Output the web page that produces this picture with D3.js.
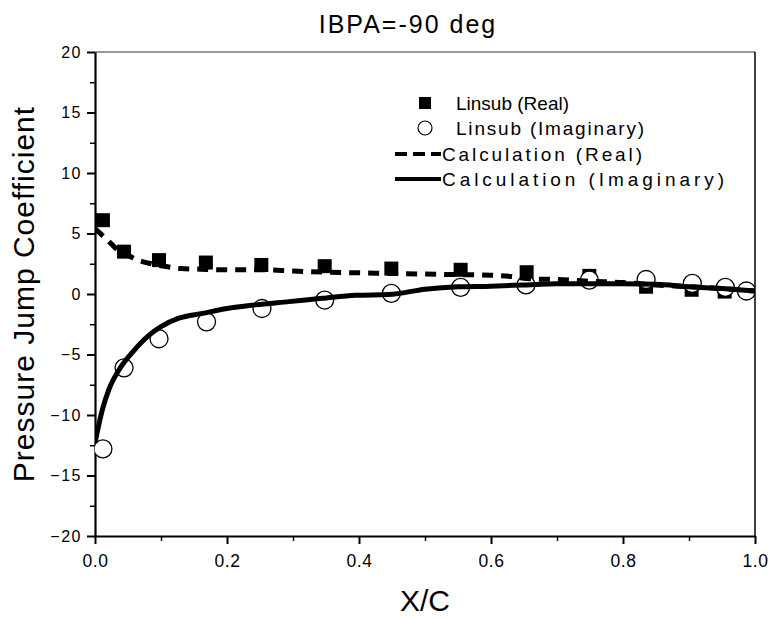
<!DOCTYPE html>
<html>
<head>
<meta charset="utf-8">
<script src="https://cdn.jsdelivr.net/npm/d3@7"></script>
<style>
	body { margin: 0; background: #fff; }
	text { font-family: "Liberation Sans", Arial, sans-serif; fill: #000; }
</style>
</head>
<body>
<div id="chartCanvas"></div>
<script>
"use strict";
//Linsub points (squares = real part, circles = imaginary part)
var linsubRealX = [0.012, 0.044, 0.097, 0.168, 0.252, 0.348, 0.449, 0.554, 0.654, 0.749, 0.835, 0.904, 0.954];
var linsubRealY = [6.1, 3.5, 2.8, 2.6, 2.4, 2.3, 2.1, 2.0, 1.8, 1.5, 0.6, 0.35, 0.2];
var linsubImagX = [0.012, 0.044, 0.097, 0.169, 0.253, 0.348, 0.449, 0.554, 0.653, 0.749, 0.835, 0.905, 0.955, 0.987];
var linsubImagY = [-12.8, -6.1, -3.7, -2.3, -1.2, -0.5, 0.05, 0.55, 0.75, 1.15, 1.2, 0.88, 0.55, 0.25];

//calculated curves
var calcRealX = [0.0, 0.01, 0.02, 0.035, 0.05, 0.065, 0.085, 0.11, 0.13, 0.16, 0.2, 0.25, 0.3, 0.35, 0.4, 0.45, 0.5, 0.55, 0.6, 0.63, 0.66, 0.7, 0.75, 0.8, 0.85, 0.9, 0.95, 1.0];
var calcRealY = [5.4, 4.9, 4.4, 3.6, 3.2, 2.8, 2.5, 2.25, 2.1, 2.05, 2.0, 2.0, 1.9, 1.8, 1.75, 1.7, 1.65, 1.6, 1.55, 1.45, 1.25, 1.2, 1.05, 0.95, 0.75, 0.6, 0.45, 0.25];
var calcImagX = [0.0, 0.005, 0.011, 0.021, 0.036, 0.057, 0.082, 0.1, 0.127, 0.163, 0.2, 0.243, 0.294, 0.344, 0.395, 0.445, 0.5, 0.55, 0.6, 0.65, 0.7, 0.75, 0.8, 0.85, 0.9, 0.95, 1.0];
var calcImagY = [-12.3, -11.0, -9.6, -7.9, -6.3, -4.8, -3.4, -2.7, -2.0, -1.6, -1.2, -0.9, -0.63, -0.36, -0.1, -0.05, 0.4, 0.6, 0.65, 0.75, 0.85, 0.85, 0.85, 0.8, 0.6, 0.45, 0.25];

var xTicks = [0, 0.2, 0.4, 0.6, 0.8, 1.0];
var xMinorTicks = [0.1, 0.3, 0.5, 0.7, 0.9];
var yTicks = [-20, -15, -10, -5, 0, 5, 10, 15, 20];
var yMinorTicks = [-17.5, -12.5, -7.5, -2.5, 2.5, 7.5, 12.5, 17.5];

var legendLabels = ["Linsub (Real)", "Linsub (Imaginary)", "Calculation (Real)", "Calculation (Imaginary)"];

var width = 772, height = 619;
var plotLeft = 95, plotRight = 755, plotTop = 52, plotBottom = 536;

var svg = d3.select('#chartCanvas').append('svg')
	.attr('width', width)
	.attr('height', height);

var x = d3.scaleLinear().domain([0, 1]).range([plotLeft, plotRight]);
var y = d3.scaleLinear().domain([-20, 20]).range([plotBottom, plotTop]);

function zipPoints(xs, ys){
	return xs.map(function(v, i){ return {x: v, y: ys[i]}; });
}

svg.append('clipPath').attr('id', 'plotClip')
	.append('rect')
	.attr('x', plotLeft).attr('y', plotTop)
	.attr('width', plotRight - plotLeft).attr('height', plotBottom - plotTop);

//frame: top and right thin lines
svg.append('line')
	.attr('x1', plotLeft).attr('x2', plotRight).attr('y1', plotTop).attr('y2', plotTop)
	.style('stroke', '#333').style('stroke-width', 1.2);
svg.append('line')
	.attr('x1', plotRight).attr('x2', plotRight).attr('y1', plotTop).attr('y2', plotBottom)
	.style('stroke', '#000').style('stroke-width', 1.5);

//minor ticks first, then the main axes on top
svg.append('g')
	.attr('transform', 'translate(0,' + plotBottom + ')')
	.call(d3.axisBottom(x).tickValues(xMinorTicks).tickSize(5).tickFormat(''))
	.call(function(g){ g.select('.domain').remove(); g.selectAll('line').style('stroke-width', 1.5); });
svg.append('g')
	.attr('transform', 'translate(' + plotLeft + ',0)')
	.call(d3.axisLeft(y).tickValues(yMinorTicks).tickSize(5).tickFormat(''))
	.call(function(g){ g.select('.domain').remove(); g.selectAll('line').style('stroke-width', 1.5); });

var xAxis = svg.append('g')
	.attr('transform', 'translate(0,' + plotBottom + ')')
	.call(d3.axisBottom(x).tickValues(xTicks).tickSize(8).tickSizeOuter(0).tickPadding(11).tickFormat(d3.format('.1f')));
xAxis.select('.domain').style('stroke-width', 2.2);
xAxis.selectAll('line').style('stroke-width', 2);
xAxis.selectAll('text')
	.attr('font-family', null)
	.style('font-size', '17.5px')
	.style('letter-spacing', '0.5px');

var yAxis = svg.append('g')
	.attr('transform', 'translate(' + plotLeft + ',0)')
	.call(d3.axisLeft(y).tickValues(yTicks).tickSize(8).tickSizeOuter(0).tickPadding(5).tickFormat(d3.format('d')));
yAxis.select('.domain').style('stroke-width', 2.2);
yAxis.selectAll('line').style('stroke-width', 2);
yAxis.selectAll('text')
	.attr('font-family', null)
	.style('font-size', '16px')
	.style('letter-spacing', '1.5px');

//titles
svg.append('text')
	.attr('x', 408)
	.attr('y', 33)
	.attr('text-anchor', 'middle')
	.style('font-size', '25px')
	.style('letter-spacing', '2px')
	.text('IBPA=-90 deg');
svg.append('text')
	.attr('x', 425)
	.attr('y', 611)
	.attr('text-anchor', 'middle')
	.style('font-size', '30px')
	.text('X/C');
svg.append('text')
	.attr('transform', 'translate(34,' + ((plotTop + plotBottom) / 2) + ') rotate(-90)')
	.attr('text-anchor', 'middle')
	.style('font-size', '30px')
	.style('letter-spacing', '1px')
	.text('Pressure Jump Coefficient');

var plot = svg.append('g').attr('clip-path', 'url(#plotClip)');

var line = d3.line()
	.x(function(d){ return x(d.x); })
	.y(function(d){ return y(d.y); })
	.curve(d3.curveMonotoneX);

//Linsub markers
plot.selectAll('.realPt').data(zipPoints(linsubRealX, linsubRealY)).enter().append('rect')
	.attr('class', 'realPt')
	.attr('x', function(d){ return x(d.x) - 7; })
	.attr('y', function(d){ return y(d.y) - 7; })
	.attr('width', 14)
	.attr('height', 14)
	.style('fill', '#000');
plot.selectAll('.imagPt').data(zipPoints(linsubImagX, linsubImagY)).enter().append('circle')
	.attr('class', 'imagPt')
	.attr('cx', function(d){ return x(d.x); })
	.attr('cy', function(d){ return y(d.y); })
	.attr('r', 9)
	.style('fill', '#fff')
	.style('stroke', '#000')
	.style('stroke-width', 1.3);

//calculation curves
plot.append('path')
	.datum(zipPoints(calcRealX, calcRealY))
	.attr('d', line)
	.style('fill', 'none')
	.style('stroke', '#000')
	.style('stroke-width', 5)
	.style('stroke-dasharray', '11,8');
plot.append('path')
	.datum(zipPoints(calcImagX, calcImagY))
	.attr('d', line)
	.style('fill', 'none')
	.style('stroke', '#000')
	.style('stroke-width', 5);

//legend; the original font spreads the longer labels out, so stretch those to their width
var legendRows = [103, 128, 154, 179];
var legendTextX = [456, 456, 442, 442];
var legendTextWidth = [null, 188, 200, 282];
var legend = svg.append('g');
legend.append('rect')
	.attr('x', 419).attr('y', legendRows[0] - 6)
	.attr('width', 12).attr('height', 12)
	.style('fill', '#000');
legend.append('circle')
	.attr('cx', 425).attr('cy', legendRows[1])
	.attr('r', 7)
	.style('fill', '#fff')
	.style('stroke', '#000')
	.style('stroke-width', 1.2);
legend.append('line')
	.attr('x1', 395).attr('x2', 441)
	.attr('y1', legendRows[2]).attr('y2', legendRows[2])
	.style('stroke', '#000')
	.style('stroke-width', 4)
	.style('stroke-dasharray', '12,6');
legend.append('line')
	.attr('x1', 395).attr('x2', 441)
	.attr('y1', legendRows[3]).attr('y2', legendRows[3])
	.style('stroke', '#000')
	.style('stroke-width', 4);
legend.selectAll('.legendText').data(legendLabels).enter().append('text')
	.attr('class', 'legendText')
	.attr('x', function(d, i){ return legendTextX[i]; })
	.attr('y', function(d, i){ return legendRows[i] + 7; })
	.attr('textLength', function(d, i){ return legendTextWidth[i]; })
	.attr('lengthAdjust', 'spacing')
	.style('font-size', '19px')
	.text(function(d){ return d; });
</script>
</body>
</html>
